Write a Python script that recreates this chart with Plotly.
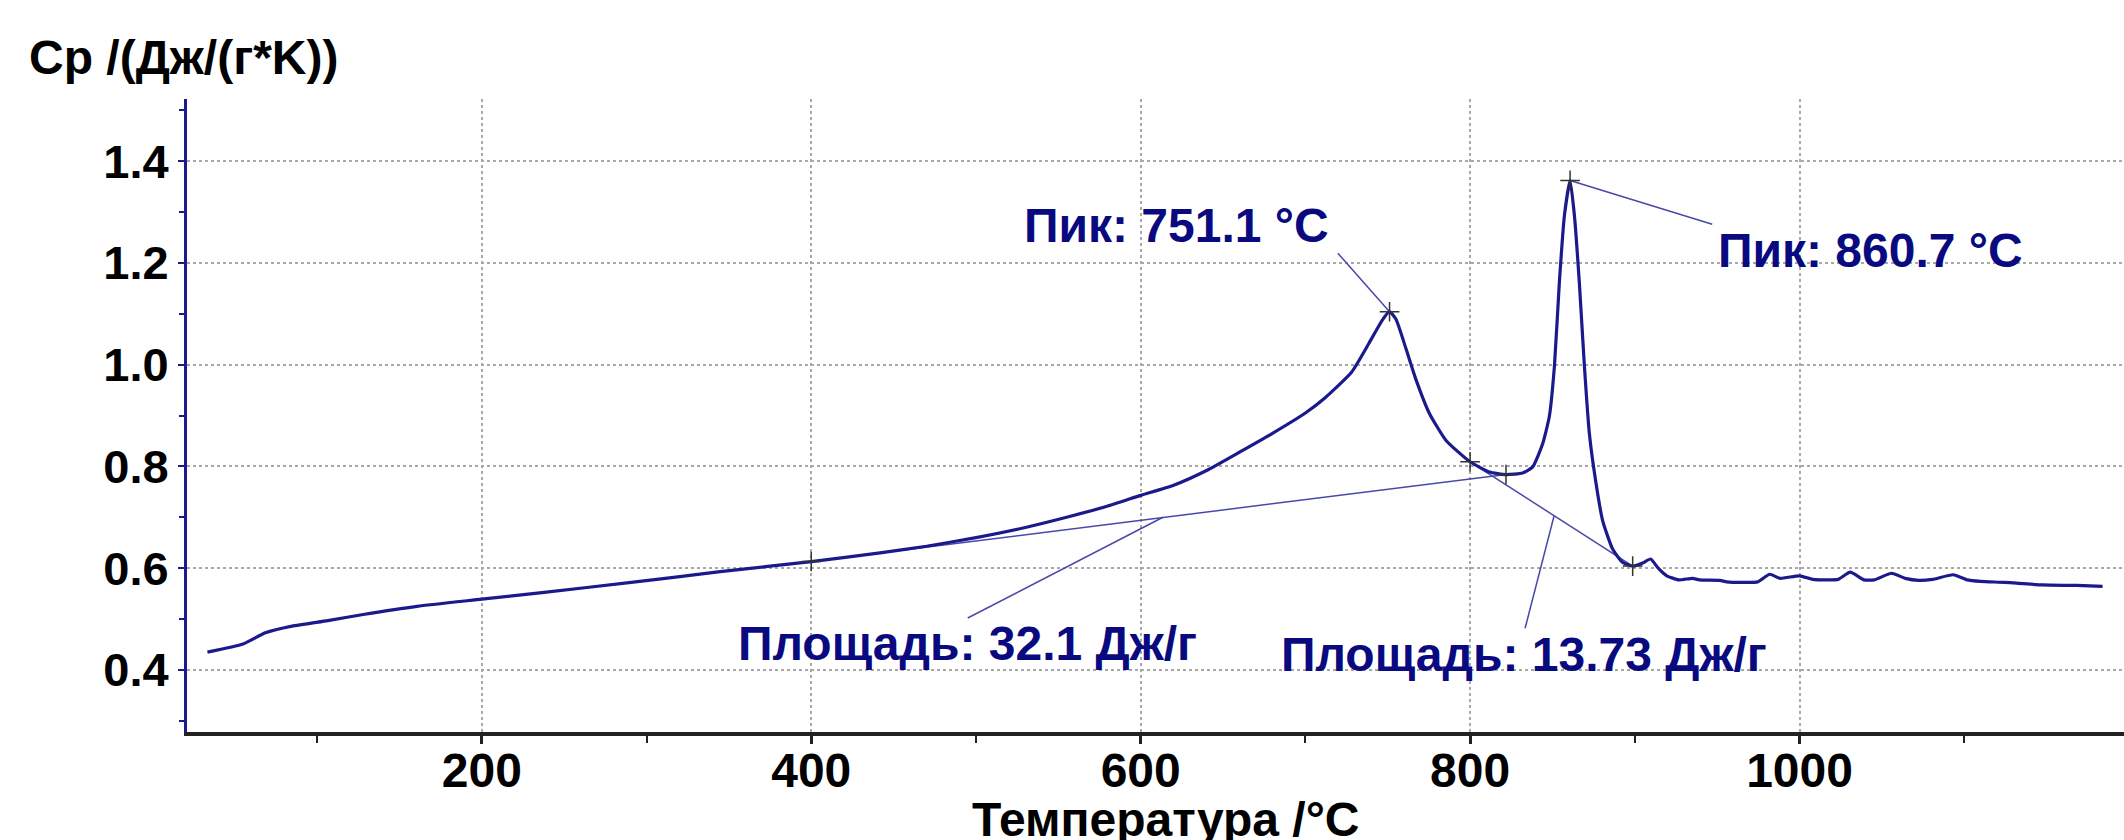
import plotly.graph_objects as go

# ---- data ----
temp = [33.4, 55, 68.6, 84.8, 106.5, 128, 160.7, 200, 236.5, 290.7, 344.7, 400,
        441.8, 470, 500, 530, 555, 580, 600, 620, 640, 660, 680, 700, 712, 728,
        738.6, 746.8, 751.1, 755, 761.2, 767.2, 775.3, 785.4, 800, 811.7, 821.8,
        831.9, 838, 844.1, 848.1, 851.2, 854.2, 857.3, 860.7, 863.3, 866.3, 869.4,
        872.4, 876.5, 880.5, 886.6, 892.7, 898.7, 904.8, 909.6, 914.2, 919.4,
        926.7, 935, 939.2, 951.7, 955.8, 968.3, 974.6, 981.9, 988.1, 1000, 1007.9,
        1016.3, 1023.5, 1030.8, 1039.2, 1045.4, 1055.8, 1064.2, 1072.5, 1080.8,
        1093.3, 1101.7, 1110, 1124.6, 1147.5, 1168.3, 1184]
cp = [0.435, 0.451, 0.473, 0.486, 0.497, 0.509, 0.525, 0.539, 0.552, 0.572, 0.593, 0.613,
      0.630, 0.643, 0.660, 0.680, 0.700, 0.722, 0.743, 0.763, 0.792, 0.828, 0.865, 0.905, 0.935, 0.985,
      1.042, 1.088, 1.104, 1.089, 1.030, 0.970, 0.904, 0.851, 0.809, 0.789, 0.784,
      0.787, 0.799, 0.845, 0.898, 0.997, 1.162, 1.294, 1.362, 1.294, 1.162, 0.997,
      0.865, 0.766, 0.693, 0.637, 0.611, 0.604, 0.610, 0.618, 0.600, 0.585,
      0.577, 0.580, 0.577, 0.576, 0.573, 0.572, 0.573, 0.588, 0.580, 0.585, 0.578,
      0.577, 0.578, 0.592, 0.577, 0.577, 0.590, 0.580, 0.576, 0.578,
      0.587, 0.577, 0.574, 0.572, 0.567, 0.566, 0.564]

baseline1_t = [400, 821.8]
baseline1_cp = [0.613, 0.784]
baseline2_t = [800, 898.7]
baseline2_cp = [0.809, 0.604]

marker_t = [400, 751.1, 800, 821.8, 860.7, 898.7]
marker_cp = [0.613, 1.104, 0.809, 0.784, 1.362, 0.604]

# leader lines: (from point on curve/baseline) -> (label)
leader_peak1_t = [751.1, 719.7]
leader_peak1_cp = [1.104, 1.219]
leader_peak2_t = [860.7, 947]
leader_peak2_cp = [1.362, 1.276]
leader_area1_t = [613.5, 495]
leader_area1_cp = [0.700, 0.502]
leader_area2_t = [851, 833.4]
leader_area2_cp = [0.703, 0.482]

labels = ["Пик: 751.1 °C", "Пик: 860.7 °C", "Площадь: 32.1 Дж/г", "Площадь: 13.73 Дж/г"]
label_t = [527.9, 949, 354.4, 683.9]
label_cp = [1.274, 1.225, 0.451, 0.430]

x_title = "Температура /°C"
y_title = "Cp /(Дж/(г*K))"

# ---- styles ----
NAVY = "#1a1a8c"
TEXT_NAVY = "#0a0a80"
THIN = "#4848aa"
FONT = "Liberation Sans, Arial, sans-serif"

fig = go.Figure()

thin_line = dict(color=THIN, width=1.5)
for xs, ys in [(baseline1_t, baseline1_cp), (baseline2_t, baseline2_cp),
               (leader_peak1_t, leader_peak1_cp), (leader_peak2_t, leader_peak2_cp),
               (leader_area1_t, leader_area1_cp), (leader_area2_t, leader_area2_cp)]:
    fig.add_trace(go.Scatter(x=xs, y=ys, mode="lines", line=thin_line,
                             hoverinfo="skip", showlegend=False))

fig.add_trace(go.Scatter(x=temp, y=cp, mode="lines",
                         line=dict(color=NAVY, width=3.2, shape="spline", smoothing=0.5),
                         showlegend=False))

fig.add_trace(go.Scatter(x=marker_t, y=marker_cp, mode="markers",
                         marker=dict(symbol="cross-thin", size=14,
                                     line=dict(color="#333333", width=1.5)),
                         showlegend=False))

for txt, xt, yc in zip(labels, label_t, label_cp):
    fig.add_annotation(x=xt, y=yc, xref="x", yref="y", text=txt, showarrow=False,
                       xanchor="left", yanchor="middle",
                       font=dict(family=FONT, size=48, color=TEXT_NAVY, weight="bold"))

fig.add_annotation(x=0.5054, y=-0.139, xref="paper", yref="paper", text=x_title,
                   showarrow=False, xanchor="center", yanchor="middle",
                   font=dict(family=FONT, size=48, color="black", weight="bold"))
fig.add_annotation(x=-0.0826, y=1.0648, xref="paper", yref="paper", text=y_title,
                   showarrow=False, xanchor="left", yanchor="middle",
                   font=dict(family=FONT, size=48, color="black", weight="bold"))

fig.update_layout(
    width=2124, height=840,
    margin=dict(l=187, r=0, t=99, b=108),
    paper_bgcolor="white", plot_bgcolor="white",
    showlegend=False,
)
fig.update_xaxes(
    range=[21, 1197], tick0=0, dtick=200,
    showline=True, linecolor="#222222", linewidth=4,
    ticks="outside", ticklen=8, tickwidth=3, tickcolor="#222222",
    tickfont=dict(family=FONT, size=48, color="black", weight="bold"),
    ticklabelstandoff=-15,
    showgrid=True, gridcolor="#a8a8a8", gridwidth=2, griddash="dot",
    zeroline=False,
    minor=dict(dtick=100, tick0=0, ticks="outside", ticklen=7, tickwidth=2,
               tickcolor="#222222", showgrid=False),
)
fig.update_yaxes(
    range=[0.278, 1.522], tick0=0.4, dtick=0.2, tickformat=".1f",
    showline=True, linecolor=NAVY, linewidth=3,
    ticks="outside", ticklen=6, tickwidth=2, tickcolor=NAVY,
    tickfont=dict(family=FONT, size=47, color="black", weight="bold"),
    showgrid=True, gridcolor="#a8a8a8", gridwidth=2, griddash="dot",
    zeroline=False,
    minor=dict(dtick=0.1, tick0=0.4, ticks="outside", ticklen=5, tickwidth=2,
               tickcolor=NAVY, showgrid=False),
)

fig.write_html("out.html")
